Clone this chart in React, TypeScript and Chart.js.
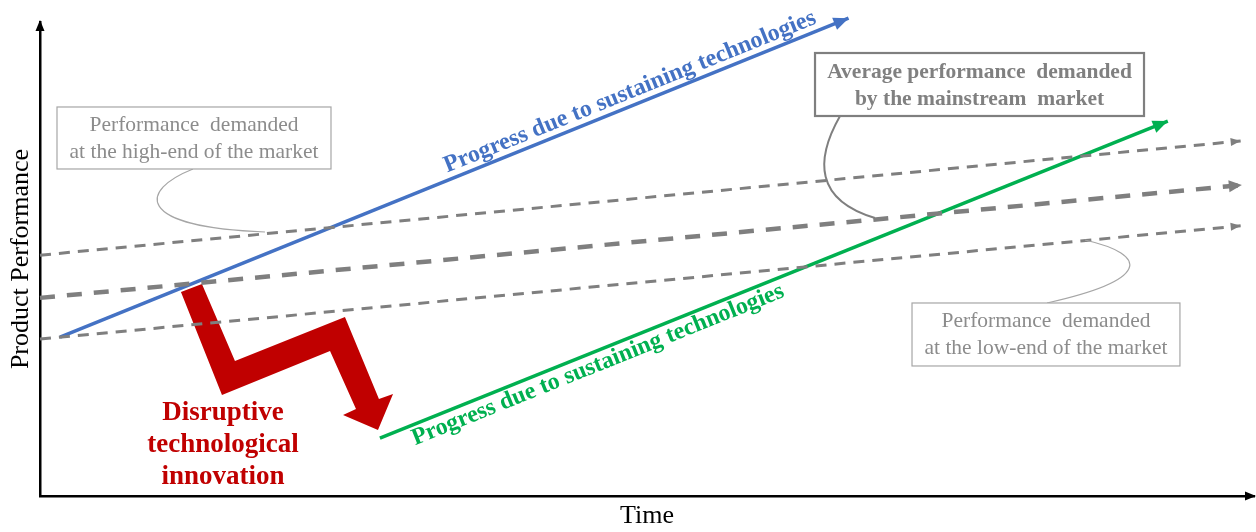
import React, { useEffect, useRef } from 'react';
import { Chart, registerables } from 'chart.js';

Chart.register(...registerables);

// ---------- data (time on x, product performance on y; both 0..100) ----------
const highEndTime = [0, 98.9];
const highEndPerf = [50.8, 74.9];
const mainstreamTime = [0, 99.0];
const mainstreamPerf = [41.8, 65.6];
const lowEndTime = [0, 98.9];
const lowEndPerf = [33.1, 57.0];
const incumbentTime = [1.65, 66.6];
const incumbentPerf = [33.5, 100.8];
const entrantTime = [28.0, 92.9];
const entrantPerf = [12.2, 79.1];
const disruptionTime = [11.61, 13.34, 16.06, 25.12, 27.92, 29.08, 27.84, 24.96, 26.03, 23.89, 14.99];
const disruptionPerf = [43.04, 44.73, 28.48, 37.76, 20.46, 21.52, 13.92, 17.09, 18.35, 30.59, 21.31];

const axisTitleX = 'Time';
const axisTitleY = 'Product Performance';
const sustainingLabel = 'Progress due to sustaining technologies';
const disruptiveLines = ['Disruptive', 'technological', 'innovation'];
const highEndLines = ['Performance  demanded', 'at the high-end of the market'];
const mainstreamLines = ['Average performance  demanded', 'by the mainstream  market'];
const lowEndLines = ['Performance  demanded', 'at the low-end of the market'];

// ---------- annotation placement (data units) ----------
const SERIF = '"Liberation Serif", "Times New Roman", serif';
const GRAY = '#7F7F7F';
const BLUE = '#4472C4';
const GREEN = '#00B050';
const RED = '#C00000';

const boxes = [
  {
    lines: highEndLines, x1: 1.4, x2: 23.97, yTop: 82.07, yBot: 68.99, lineY: [78.27, 72.57],
    font: `21.5px ${SERIF}`, color: '#8C8C8C', border: '#A6A6A6', borderWidth: 1.2,
    curve: [[12.6, 68.99], [8.24, 64.56], [7.6, 56.8], [18.53, 55.7]], curveWidth: 1.2,
  },
  {
    lines: mainstreamLines, x1: 63.84, x2: 90.94, yTop: 93.46, yBot: 80.17, lineY: [89.45, 83.76],
    font: `bold 21.5px ${SERIF}`, color: '#808080', border: '#7F7F7F', borderWidth: 2.2,
    curve: [[65.9, 80.17], [63.84, 70.89], [63.84, 62.45], [68.78, 58.65]], curveWidth: 2,
  },
  {
    lines: lowEndLines, x1: 71.83, x2: 93.9, yTop: 40.72, yBot: 27.43, lineY: [36.92, 31.22],
    font: `21.5px ${SERIF}`, color: '#8C8C8C', border: '#A6A6A6', borderWidth: 1.2,
    curve: [[82.95, 40.72], [91.43, 45.57], [91.43, 50.84], [86.08, 54.01]], curveWidth: 1.2,
  },
];

const rotatedLabels = [
  { text: sustainingLabel, dataset: 3, x: 48.6, y: 85.23, color: BLUE },
  { text: sustainingLabel, dataset: 4, x: 45.96, y: 27.64, color: GREEN },
];

const redTextX = 15.07;
const redTextY = [17.51, 10.76, 4.01];

function pts(xs: number[], ys: number[]) {
  return xs.map((x, i) => ({ x, y: ys[i] }));
}

function arrowHead(ctx: CanvasRenderingContext2D, tx: number, ty: number, ang: number, len: number, hw: number, color: string) {
  const dx = Math.cos(ang), dy = Math.sin(ang);
  const bx = tx - dx * len, by = ty - dy * len;
  ctx.save();
  ctx.beginPath();
  ctx.moveTo(tx, ty);
  ctx.lineTo(bx - dy * hw, by + dx * hw);
  ctx.lineTo(bx + dy * hw, by - dx * hw);
  ctx.closePath();
  ctx.fillStyle = color;
  ctx.fill();
  ctx.restore();
}

const diagramPlugin = {
  id: 'diagram',
  beforeDatasetsDraw(chart: any) {
    const ctx: CanvasRenderingContext2D = chart.ctx;
    chart.data.datasets.forEach((ds: any, i: number) => {
      if (!ds.polygonFill) return;
      const meta = chart.getDatasetMeta(i);
      ctx.save();
      ctx.beginPath();
      meta.data.forEach((p: any, j: number) => (j ? ctx.lineTo(p.x, p.y) : ctx.moveTo(p.x, p.y)));
      ctx.closePath();
      ctx.fillStyle = ds.polygonFill;
      ctx.fill();
      ctx.restore();
    });
  },
  afterDatasetsDraw(chart: any) {
    const ctx: CanvasRenderingContext2D = chart.ctx;
    const sx = chart.scales.x, sy = chart.scales.y;
    const X = (v: number) => sx.getPixelForValue(v);
    const Y = (v: number) => sy.getPixelForValue(v);
    const area = chart.chartArea;

    // arrowheads at the end of the lines
    chart.data.datasets.forEach((ds: any, i: number) => {
      if (!ds.arrow) return;
      const meta = chart.getDatasetMeta(i);
      const n = meta.data.length;
      const a = meta.data[n - 2], b = meta.data[n - 1];
      const ang = Math.atan2(b.y - a.y, b.x - a.x);
      arrowHead(ctx, b.x, b.y, ang, ds.arrow[0], ds.arrow[1], ds.borderColor);
    });

    // axis arrowheads
    arrowHead(ctx, area.left, area.top - 2, -Math.PI / 2, 11, 4.5, '#000');
    arrowHead(ctx, area.right + 2, area.bottom, 0, 11, 4.5, '#000');

    // callout boxes with connectors
    boxes.forEach((b) => {
      ctx.save();
      const c = b.curve;
      ctx.beginPath();
      ctx.moveTo(X(c[0][0]), Y(c[0][1]));
      ctx.bezierCurveTo(X(c[1][0]), Y(c[1][1]), X(c[2][0]), Y(c[2][1]), X(c[3][0]), Y(c[3][1]));
      ctx.strokeStyle = b.border;
      ctx.lineWidth = b.curveWidth;
      ctx.stroke();
      const x1 = X(b.x1), x2 = X(b.x2), y1 = Y(b.yTop), y2 = Y(b.yBot);
      ctx.fillStyle = '#fff';
      ctx.fillRect(x1, y1, x2 - x1, y2 - y1);
      ctx.lineWidth = b.borderWidth;
      ctx.strokeRect(x1, y1, x2 - x1, y2 - y1);
      ctx.font = b.font;
      ctx.fillStyle = b.color;
      ctx.textAlign = 'center';
      ctx.textBaseline = 'middle';
      b.lines.forEach((t, k) => ctx.fillText(t, (x1 + x2) / 2, Y(b.lineY[k])));
      ctx.restore();
    });

    // rotated labels along the sustaining-technology lines
    rotatedLabels.forEach((l) => {
      const meta = chart.getDatasetMeta(l.dataset);
      const a = meta.data[0], b = meta.data[meta.data.length - 1];
      const ang = Math.atan2(b.y - a.y, b.x - a.x);
      ctx.save();
      ctx.translate(X(l.x), Y(l.y));
      ctx.rotate(ang);
      ctx.font = `bold 24px ${SERIF}`;
      ctx.fillStyle = l.color;
      ctx.textAlign = 'center';
      ctx.textBaseline = 'middle';
      ctx.fillText(l.text, 0, 0);
      ctx.restore();
    });

    // disruptive innovation label
    ctx.save();
    ctx.font = `bold 27px ${SERIF}`;
    ctx.fillStyle = RED;
    ctx.textAlign = 'center';
    ctx.textBaseline = 'middle';
    disruptiveLines.forEach((t, k) => ctx.fillText(t, X(redTextX), Y(redTextY[k])));
    ctx.restore();
  },
};

export default function App() {
  const ref = useRef<HTMLCanvasElement | null>(null);
  useEffect(() => {
    if (!ref.current) return;
    const lineDs = (label: string, xs: number[], ys: number[], color: string, width: number, dash: number[], arrow: number[]) => ({
      label,
      data: pts(xs, ys),
      showLine: true,
      borderColor: color,
      backgroundColor: color,
      borderWidth: width,
      borderDash: dash,
      borderCapStyle: 'butt',
      pointRadius: 0,
      pointHoverRadius: 0,
      fill: false,
      tension: 0,
      clip: false,
      arrow,
    });
    const chart = new Chart(ref.current, {
      type: 'scatter',
      data: {
        datasets: [
          lineDs('High-end demand', highEndTime, highEndPerf, GRAY, 3, [11, 8], [10, 4]),
          lineDs('Mainstream demand', mainstreamTime, mainstreamPerf, GRAY, 4.5, [15, 12], [13, 6]),
          lineDs('Low-end demand', lowEndTime, lowEndPerf, GRAY, 3, [11, 8], [10, 4]),
          lineDs('Incumbent progress', incumbentTime, incumbentPerf, BLUE, 3.5, [], [15, 6.5]),
          lineDs('Entrant progress', entrantTime, entrantPerf, GREEN, 3.5, [], [15, 6.5]),
          {
            label: 'Disruption',
            data: pts(disruptionTime, disruptionPerf),
            showLine: false,
            pointRadius: 0,
            pointHoverRadius: 0,
            clip: false,
            polygonFill: RED,
          } as any,
        ] as any,
      },
      options: {
        responsive: false,
        animation: false,
        events: [],
        layout: { padding: { top: 22, right: 2, left: 0, bottom: 0 } },
        plugins: { legend: { display: false }, tooltip: { enabled: false } },
        scales: {
          x: {
            type: 'linear',
            min: 0,
            max: 100,
            ticks: { display: false },
            grid: { display: false, drawTicks: false },
            border: { color: '#000', width: 2.5 },
            title: { display: true, text: axisTitleX, color: '#000', font: { family: SERIF, size: 26 }, padding: { top: 0, bottom: 0 } },
            afterFit: (s: any) => { s.height = 36; },
          },
          y: {
            type: 'linear',
            min: 0,
            max: 100,
            ticks: { display: false },
            grid: { display: false, drawTicks: false },
            border: { color: '#000', width: 2.5 },
            title: { display: true, text: axisTitleY, color: '#000', font: { family: SERIF, size: 26 }, padding: { top: 6, bottom: 0 } },
            afterFit: (s: any) => { s.width = 40; },
          },
        },
      } as any,
      plugins: [diagramPlugin],
    });
    return () => chart.destroy();
  }, []);
  return (
    <div style={{ position: 'absolute', left: 0, top: 0, width: 1256, height: 532, background: '#fff' }}>
      <canvas ref={ref} width={1256} height={532} style={{ display: 'block' }} />
    </div>
  );
}
